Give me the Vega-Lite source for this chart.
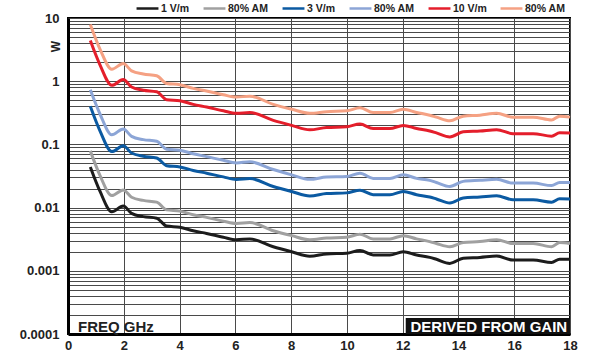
{
  "$schema": "https://vega.github.io/schema/vega-lite/v6.json",
  "width": 502,
  "height": 316,
  "autosize": {"type": "none"},
  "padding": {"left": 68, "top": 18, "right": 19, "bottom": 22},
  "background": "white",
  "config": {
    "view": {"stroke": "black", "strokeWidth": 2},
    "font": "Liberation Sans"
  },
  "datasets": {
    "curves": [
      {"f": 0.8, "s1": 0.044, "s2": 0.079, "s3": 0.40, "s4": 0.73, "s5": 4.4, "s6": 7.9},
      {"f": 1.15, "s1": 0.018, "s2": 0.032, "s3": 0.162, "s4": 0.30, "s5": 1.8, "s6": 3.2},
      {"f": 1.57, "s1": 0.0086, "s2": 0.0155, "s3": 0.077, "s4": 0.142, "s5": 0.86, "s6": 1.55},
      {"f": 1.98, "s1": 0.0106, "s2": 0.019, "s3": 0.095, "s4": 0.175, "s5": 1.06, "s6": 1.9},
      {"f": 2.28, "s1": 0.0081, "s2": 0.0146, "s3": 0.073, "s4": 0.134, "s5": 0.81, "s6": 1.46},
      {"f": 2.7, "s1": 0.0072, "s2": 0.013, "s3": 0.065, "s4": 0.119, "s5": 0.72, "s6": 1.3},
      {"f": 3.18, "s1": 0.0068, "s2": 0.0122, "s3": 0.061, "s4": 0.112, "s5": 0.68, "s6": 1.22},
      {"f": 3.54, "s1": 0.0051, "s2": 0.0092, "s3": 0.046, "s4": 0.084, "s5": 0.51, "s6": 0.92},
      {"f": 4.01, "s1": 0.0049, "s2": 0.0088, "s3": 0.044, "s4": 0.081, "s5": 0.49, "s6": 0.88},
      {"f": 4.49, "s1": 0.0043, "s2": 0.0077, "s3": 0.0387, "s4": 0.071, "s5": 0.43, "s6": 0.77},
      {"f": 4.97, "s1": 0.0039, "s2": 0.007, "s3": 0.035, "s4": 0.064, "s5": 0.39, "s6": 0.70},
      {"f": 5.57, "s1": 0.0034, "s2": 0.0061, "s3": 0.0306, "s4": 0.056, "s5": 0.34, "s6": 0.61},
      {"f": 6.04, "s1": 0.0031, "s2": 0.0056, "s3": 0.0279, "s4": 0.051, "s5": 0.31, "s6": 0.56},
      {"f": 6.52, "s1": 0.0032, "s2": 0.0058, "s3": 0.0288, "s4": 0.053, "s5": 0.32, "s6": 0.58},
      {"f": 7.36, "s1": 0.0024, "s2": 0.0043, "s3": 0.0216, "s4": 0.040, "s5": 0.24, "s6": 0.43},
      {"f": 8.02, "s1": 0.0020, "s2": 0.0036, "s3": 0.018, "s4": 0.033, "s5": 0.20, "s6": 0.36},
      {"f": 8.67, "s1": 0.0017, "s2": 0.0031, "s3": 0.0153, "s4": 0.028, "s5": 0.17, "s6": 0.31},
      {"f": 9.27, "s1": 0.00185, "s2": 0.0033, "s3": 0.0167, "s4": 0.0305, "s5": 0.185, "s6": 0.33},
      {"f": 9.99, "s1": 0.0019, "s2": 0.0034, "s3": 0.0171, "s4": 0.031, "s5": 0.19, "s6": 0.34},
      {"f": 10.47, "s1": 0.0021, "s2": 0.0038, "s3": 0.0189, "s4": 0.035, "s5": 0.21, "s6": 0.38},
      {"f": 10.94, "s1": 0.00178, "s2": 0.0032, "s3": 0.016, "s4": 0.029, "s5": 0.178, "s6": 0.32},
      {"f": 11.54, "s1": 0.00178, "s2": 0.0032, "s3": 0.016, "s4": 0.029, "s5": 0.178, "s6": 0.32},
      {"f": 12.02, "s1": 0.0020, "s2": 0.0036, "s3": 0.018, "s4": 0.033, "s5": 0.20, "s6": 0.36},
      {"f": 12.5, "s1": 0.00178, "s2": 0.0032, "s3": 0.016, "s4": 0.029, "s5": 0.178, "s6": 0.32},
      {"f": 12.97, "s1": 0.00163, "s2": 0.0029, "s3": 0.0147, "s4": 0.027, "s5": 0.163, "s6": 0.29},
      {"f": 13.21, "s1": 0.00152, "s2": 0.0027, "s3": 0.0137, "s4": 0.025, "s5": 0.152, "s6": 0.27},
      {"f": 13.69, "s1": 0.00131, "s2": 0.0024, "s3": 0.0118, "s4": 0.0216, "s5": 0.131, "s6": 0.236},
      {"f": 14.17, "s1": 0.00158, "s2": 0.0028, "s3": 0.0142, "s4": 0.026, "s5": 0.158, "s6": 0.28},
      {"f": 14.77, "s1": 0.00163, "s2": 0.0029, "s3": 0.0147, "s4": 0.027, "s5": 0.163, "s6": 0.29},
      {"f": 15.37, "s1": 0.00171, "s2": 0.0031, "s3": 0.0154, "s4": 0.028, "s5": 0.171, "s6": 0.31},
      {"f": 15.96, "s1": 0.00148, "s2": 0.0027, "s3": 0.0133, "s4": 0.0244, "s5": 0.148, "s6": 0.27},
      {"f": 16.68, "s1": 0.00148, "s2": 0.0027, "s3": 0.0133, "s4": 0.0244, "s5": 0.148, "s6": 0.27},
      {"f": 17.34, "s1": 0.00135, "s2": 0.0024, "s3": 0.0122, "s4": 0.0223, "s5": 0.135, "s6": 0.243},
      {"f": 17.63, "s1": 0.00153, "s2": 0.0028, "s3": 0.0138, "s4": 0.025, "s5": 0.153, "s6": 0.28},
      {"f": 18.0, "s1": 0.00152, "s2": 0.0027, "s3": 0.0137, "s4": 0.025, "s5": 0.152, "s6": 0.27}
    ],
    "notes": [
      {"x": 0.36, "y": 0.000129, "text": "FREQ GHz"}
    ],
    "box": [
      {"x1": 12.11, "x2": 18, "y1": 0.0001, "y2": 0.000179, "xt": 15.09, "yt": 0.000129, "text": "DERIVED FROM GAIN"}
    ]
  },
  "layer": [
    {
      "data": {"name": "curves"},
      "transform": [
        {"fold": ["s1", "s2", "s3", "s4", "s5", "s6"], "as": ["series", "value"]}
      ],
      "mark": {"type": "line", "strokeWidth": 3, "strokeJoin": "round", "interpolate": "monotone"},
      "encoding": {
        "x": {
          "field": "f", "type": "quantitative",
          "scale": {"domain": [0, 18], "nice": false, "zero": false},
          "axis": {
            "values": [0, 2, 4, 6, 8, 10, 12, 14, 16, 18],
            "title": null,
            "grid": true, "gridColor": "#4a4a4a", "gridWidth": 1, "gridOpacity": 1,
            "ticks": false,
            "domainColor": "black", "domainWidth": 3,
            "labelFont": "Liberation Sans", "labelFontWeight": "bold", "labelFontSize": 13,
            "labelColor": "#222", "labelPadding": 5, "labelFlush": false
          }
        },
        "y": {
          "field": "value", "type": "quantitative",
          "scale": {"type": "log", "domain": [0.0001, 10], "nice": false},
          "axis": {
            "values": [0.0001, 0.0002, 0.0003, 0.0004, 0.0005, 0.0006, 0.0007, 0.0008, 0.0009,
                       0.001, 0.002, 0.003, 0.004, 0.005, 0.006, 0.007, 0.008, 0.009,
                       0.01, 0.02, 0.03, 0.04, 0.05, 0.06, 0.07, 0.08, 0.09,
                       0.1, 0.2, 0.3, 0.4, 0.5, 0.6, 0.7, 0.8, 0.9,
                       1, 2, 3, 4, 5, 6, 7, 8, 9, 10],
            "format": "~g",
            "labelExpr": "indexof([10, 1, 0.1, 0.01, 0.001, 0.0001], datum.value) >= 0 ? datum.label : ''",
            "labelOverlap": false,
            "title": "W",
            "titleFont": "Liberation Sans", "titleFontWeight": "bold", "titleFontSize": 12,
            "titleColor": "#222",
            "titleX": -13, "titleY": 28, "titleAlign": "center", "titleBaseline": "middle", "titleAngle": -90,
            "grid": true, "gridColor": "#4a4a4a", "gridWidth": 1, "gridOpacity": 1,
            "ticks": false,
            "domainColor": "black", "domainWidth": 3,
            "labelFont": "Liberation Sans", "labelFontWeight": "bold", "labelFontSize": 13,
            "labelColor": "#222", "labelPadding": 9
          }
        },
        "color": {
          "field": "series", "type": "nominal",
          "scale": {
            "domain": ["s1", "s2", "s3", "s4", "s5", "s6"],
            "range": ["#1c1c1c", "#a0a0a0", "#0b5aa2", "#8ca5d6", "#e41e2b", "#f5a183"]
          },
          "legend": {
            "orient": "none", "legendX": 67, "legendY": -22,
            "direction": "horizontal",
            "title": null,
            "symbolType": "stroke", "symbolStrokeWidth": 2.5, "symbolSize": 480,
            "labelExpr": "datum.label == 's1' ? '1 V/m' : datum.label == 's3' ? '3 V/m' : datum.label == 's5' ? '10 V/m' : '80% AM'",
            "labelFont": "Liberation Sans", "labelFontWeight": "bold", "labelFontSize": 10.5,
            "labelColor": "#222", "labelOffset": 1, "columnPadding": 8
          }
        },
        "detail": {"field": "series"}
      }
    },
    {
      "data": {"name": "notes"},
      "mark": {"type": "text", "align": "left", "baseline": "middle", "font": "Liberation Sans", "fontWeight": "bold", "fontSize": 15, "color": "#222"},
      "encoding": {
        "x": {"field": "x", "type": "quantitative"},
        "y": {"field": "y", "type": "quantitative"},
        "text": {"field": "text"}
      }
    },
    {
      "data": {"name": "box"},
      "mark": {"type": "rect", "color": "#111"},
      "encoding": {
        "x": {"field": "x1", "type": "quantitative"},
        "x2": {"field": "x2"},
        "y": {"field": "y1", "type": "quantitative"},
        "y2": {"field": "y2"}
      }
    },
    {
      "data": {"name": "box"},
      "mark": {"type": "text", "align": "center", "baseline": "middle", "font": "Liberation Sans", "fontWeight": "bold", "fontSize": 15, "color": "white"},
      "encoding": {
        "x": {"field": "xt", "type": "quantitative"},
        "y": {"field": "yt", "type": "quantitative"},
        "text": {"field": "text"}
      }
    }
  ]
}
